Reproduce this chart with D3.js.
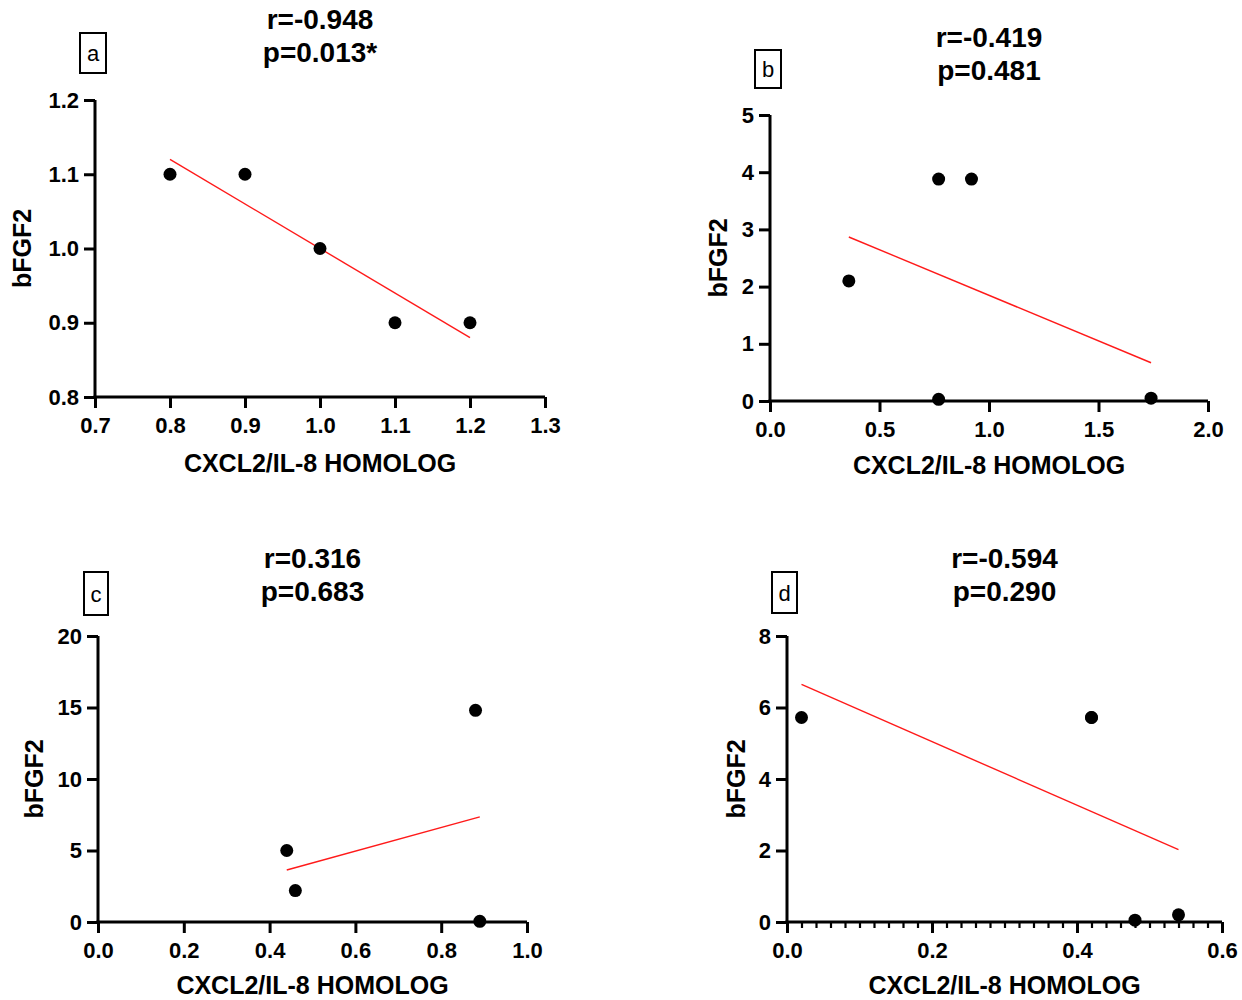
<!DOCTYPE html>
<html>
<head>
<meta charset="utf-8">
<script src="https://cdn.jsdelivr.net/npm/d3@7"></script>
<style>
  body { margin: 0; background: #fff; }
  svg { display: block; font-family: Arial, "Liberation Sans", sans-serif; }
  .tick text { font-weight: bold; font-size: 22px; fill: #000; }
</style>
</head>
<body>
<svg id="chart" width="1242" height="1000"></svg>
<script>
// values
const aX = [0.8, 0.9, 1.0, 1.1, 1.2];
const aY = [1.1, 1.1, 1.0, 0.9, 0.9];
const bX = [0.36, 0.77, 0.92, 0.77, 1.74];
const bY = [2.1, 3.88, 3.88, 0.03, 0.05];
const cX = [0.44, 0.46, 0.88, 0.89];
const cY = [5.0, 2.2, 14.8, 0.05];
// two subjects share the point at 0.42 in panel d
const dX = [0.02, 0.42, 0.42, 0.48, 0.54];
const dY = [5.72, 5.72, 5.72, 0.05, 0.2];

const aXTicks = [0.7, 0.8, 0.9, 1.0, 1.1, 1.2, 1.3];
const aYTicks = [0.8, 0.9, 1.0, 1.1, 1.2];
const bXTicks = [0, 0.5, 1.0, 1.5, 2.0];
const bYTicks = [0, 1, 2, 3, 4, 5];
const cXTicks = [0, 0.2, 0.4, 0.6, 0.8, 1.0];
const cYTicks = [0, 5, 10, 15, 20];
const dXTicks = [0, 0.2, 0.4, 0.6];
const dYTicks = [0, 2, 4, 6, 8];

const stats = [
  ["r=-0.948", "p=0.013*"],
  ["r=-0.419", "p=0.481"],
  ["r=0.316", "p=0.683"],
  ["r=-0.594", "p=0.290"]
];
const letters = ["a", "b", "c", "d"];
const xTitle = "CXCL2/IL-8 HOMOLOG";
const yTitle = "bFGF2";

const panels = [
  { x: aX, y: aY, xd: [0.7, 1.3], yd: [0.8, 1.2], xt: aXTicks, yt: aYTicks, xf: ".1f", yf: ".1f",
    l: 95, r: 545, t: 100, b: 397, titleY: 29, box: [80, 33, 26, 40], yLab: 31, xLab: 472 },
  { x: bX, y: bY, xd: [0, 2], yd: [0, 5], xt: bXTicks, yt: bYTicks, xf: ".1f", yf: "d",
    l: 770, r: 1208, t: 115, b: 401, titleY: 47, box: [755, 50, 26, 38], yLab: 727, xLab: 474 },
  { x: cX, y: cY, xd: [0, 1], yd: [0, 20], xt: cXTicks, yt: cYTicks, xf: ".1f", yf: "d",
    l: 98, r: 527, t: 636, b: 922, titleY: 568, box: [84, 572, 24, 43], yLab: 43, xLab: 994 },
  { x: dX, y: dY, xd: [0, 0.6], yd: [0, 8], xt: dXTicks, yt: dYTicks, xf: ".1f", yf: "d",
    l: 787, r: 1222, t: 636, b: 922, titleY: 568, box: [772, 572, 25, 41], yLab: 745, xLab: 994,
    minor: d3.range(0, 0.6001, 0.02) }
];

const svg = d3.select("#chart");

// least squares fit, drawn over the range of x
function fitLine(xs, ys) {
  const mx = d3.mean(xs), my = d3.mean(ys);
  let sxy = 0, sxx = 0;
  xs.forEach((v, i) => { sxy += (v - mx) * (ys[i] - my); sxx += (v - mx) * (v - mx); });
  const slope = sxy / sxx;
  const [x0, x1] = d3.extent(xs);
  return [[x0, my + slope * (x0 - mx)], [x1, my + slope * (x1 - mx)]];
}

panels.forEach((p, i) => {
  const g = svg.append("g");
  const x = d3.scaleLinear().domain(p.xd).range([p.l, p.r]);
  const y = d3.scaleLinear().domain(p.yd).range([p.b, p.t]);

  if (p.minor) {
    g.append("g")
      .attr("transform", `translate(0,${p.b})`)
      .call(d3.axisBottom(x).tickValues(p.minor).tickSize(6).tickFormat(""))
      .call(a => a.select(".domain").remove())
      .selectAll("line").attr("stroke", "#000").attr("stroke-width", 2.2);
  }

  const xa = g.append("g")
    .attr("transform", `translate(0,${p.b})`)
    .call(d3.axisBottom(x).tickValues(p.xt).tickSize(11).tickSizeOuter(0).tickPadding(9)
      .tickFormat(d3.format(p.xf)));
  const ya = g.append("g")
    .attr("transform", `translate(${p.l},0)`)
    .call(d3.axisLeft(y).tickValues(p.yt).tickSize(11).tickSizeOuter(0).tickPadding(5)
      .tickFormat(d3.format(p.yf)));

  [xa, ya].forEach(a => {
    a.select(".domain").attr("stroke", "#000").attr("stroke-width", 3);
    a.selectAll(".tick line").attr("stroke", "#000").attr("stroke-width", 3);
    a.attr("font-family", null).attr("font-size", null);
  });
  // extend the domain lines a little over the corner
  xa.select(".domain").attr("d", `M${p.l - 1.5},0H${p.r}`);
  ya.select(".domain").attr("d", `M0,${p.b + 1.5}V${p.t}`);

  const fit = fitLine(p.x, p.y);
  g.append("line")
    .attr("x1", x(fit[0][0])).attr("y1", y(fit[0][1]))
    .attr("x2", x(fit[1][0])).attr("y2", y(fit[1][1]))
    .attr("stroke", "#ff1a1a").attr("stroke-width", 1.4);

  g.selectAll("circle")
    .data(p.x.map((v, k) => [v, p.y[k]]))
    .join("circle")
    .attr("cx", d => x(d[0]))
    .attr("cy", d => y(d[1]))
    .attr("r", 6.5)
    .attr("fill", "#000");

  const cx = (p.l + p.r) / 2;
  stats[i].forEach((s, k) => {
    g.append("text")
      .attr("x", cx).attr("y", p.titleY + k * 33)
      .attr("text-anchor", "middle")
      .attr("font-weight", "bold").attr("font-size", 28)
      .text(s);
  });

  const [bx, by, bw, bh] = p.box;
  g.append("rect")
    .attr("x", bx).attr("y", by).attr("width", bw).attr("height", bh)
    .attr("fill", "none").attr("stroke", "#000").attr("stroke-width", 2);
  g.append("text")
    .attr("x", bx + bw / 2).attr("y", by + bh / 2 + 8)
    .attr("text-anchor", "middle").attr("font-size", 22)
    .text(letters[i]);

  g.append("text")
    .attr("transform", `translate(${p.yLab},${(p.t + p.b) / 2}) rotate(-90)`)
    .attr("text-anchor", "middle")
    .attr("font-weight", "bold").attr("font-size", 25)
    .text(yTitle);

  g.append("text")
    .attr("x", cx).attr("y", p.xLab)
    .attr("text-anchor", "middle")
    .attr("font-weight", "bold").attr("font-size", 25)
    .text(xTitle);
});
</script>
</body>
</html>
